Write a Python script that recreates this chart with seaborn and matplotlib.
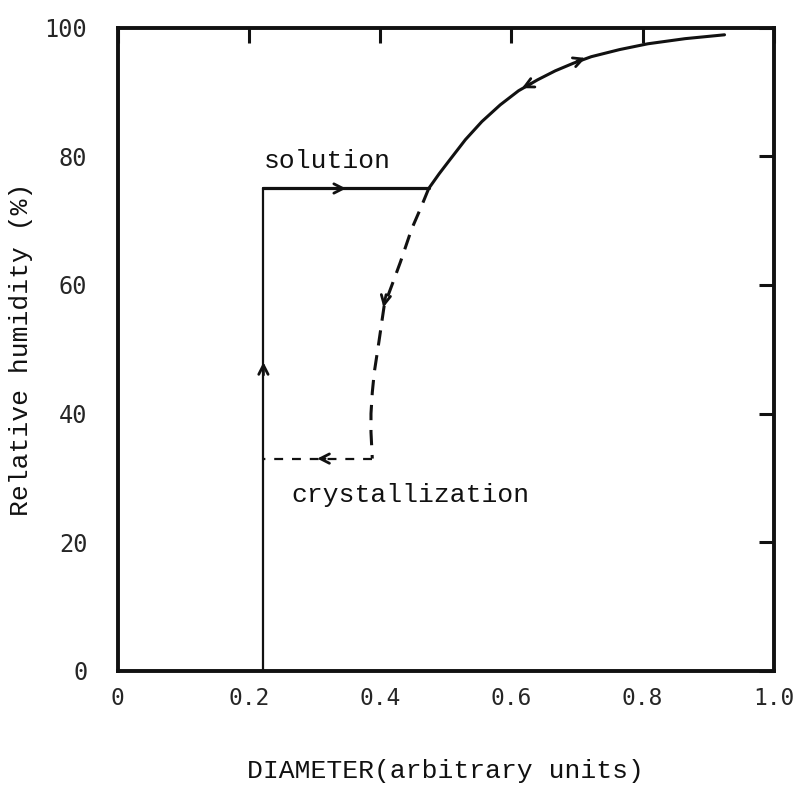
import numpy as np
import pandas as pd
import matplotlib
matplotlib.use("Agg")
import matplotlib.pyplot as plt
import seaborn as sns

# Growth branch: dry particle deliquesces, then grows along the solution curve
rise_x = [0.222, 0.222]
rise_y = [0.0, 75.0]
deliq_x = [0.222, 0.474]
deliq_y = [75.0, 75.0]
solution_x = [0.474, 0.490, 0.505, 0.530, 0.555, 0.583, 0.611, 0.640,
              0.667, 0.695, 0.722, 0.765, 0.808, 0.865, 0.925]
solution_y = [75.0, 77.3, 79.3, 82.6, 85.4, 88.0, 90.2, 91.9,
              93.3, 94.5, 95.5, 96.6, 97.5, 98.3, 98.9]

# Evaporation branch: supersaturated droplet shrinks until it crystallizes
evap_x = [0.474, 0.462, 0.448, 0.431, 0.418, 0.406, 0.398, 0.391,
          0.388, 0.386, 0.386, 0.388]
evap_y = [75.0, 72.0, 68.7, 63.6, 60.0, 56.7, 51.1, 46.4,
          43.3, 40.0, 37.1, 33.0]
cryst_x = [0.388, 0.222]
cryst_y = [33.0, 33.0]

x_ticks = [0, 0.2, 0.4, 0.6, 0.8, 1.0]
x_ticklabels = ["0", "0.2", "0.4", "0.6", "0.8", "1.0"]
y_ticks = [0, 20, 40, 60, 80, 100]
y_ticklabels = ["0", "20", "40", "60", "80", "100"]

sns.set_theme(style="white")
plt.rcParams["font.family"] = ["Liberation Mono", "DejaVu Sans Mono"]

fig = plt.figure(figsize=(7.96, 7.92), dpi=100)
ax = fig.add_axes([0.148, 0.153, 0.824, 0.812])

ink = "#111111"

def path(xs, ys, lw, dashes=None):
    df = pd.DataFrame({"x": xs, "y": ys})
    sns.lineplot(data=df, x="x", y="y", sort=False, ax=ax,
                 color=ink, lw=lw, estimator=None)
    if dashes is not None:
        ax.lines[-1].set_dashes(dashes)
        ax.lines[-1].set_dash_capstyle("butt")

path(rise_x, rise_y, 1.6)
path(deliq_x, deliq_y, 2.3)
path(solution_x, solution_y, 2.2)
path(evap_x, evap_y, 2.2, dashes=(5, 3.2))
path(cryst_x, cryst_y, 1.6, dashes=(4, 4))

def chevron(tip, tail):
    ax.annotate("", xy=tip, xytext=tail,
                arrowprops=dict(arrowstyle="->,head_length=0.55,head_width=0.28",
                                color=ink, lw=2.0, shrinkA=0, shrinkB=0))

# direction markers along the loop
chevron((rise_x[0], 48.0), (rise_x[0], 46.0))
chevron((0.348, 75.0), (0.338, 75.0))
chevron((0.616, 90.6), (0.630, 91.3))
chevron((0.713, 95.3), (0.700, 94.8))
chevron((0.405, 56.5), (0.409, 58.5))
chevron((0.304, 33.0), (0.316, 33.0))

ax.text(0.223, 79.3, "solution", fontsize=19, ha="left", va="center", color=ink)
ax.text(0.264, 27.4, "crystallization", fontsize=19, ha="left", va="center", color=ink)

ax.set_xlim(0, 1.0)
ax.set_ylim(0, 100)
ax.set_xticks(x_ticks)
ax.set_xticklabels(x_ticklabels, family="DejaVu Sans Mono", fontsize=16.5)
ax.set_yticks(y_ticks)
ax.set_yticklabels(y_ticklabels, family="DejaVu Sans Mono", fontsize=17)
ax.tick_params(axis="both", direction="in", length=11, width=2.2, color=ink,
               top=True, right=True)
ax.tick_params(axis="x", pad=12)
ax.tick_params(axis="y", pad=22)

ax.set_xlabel("DIAMETER(arbitrary units)", fontsize=19, labelpad=35, color=ink)
ax.set_ylabel("Relative humidity (%)", fontsize=19, labelpad=8, color=ink)

for side in ["left", "right", "top", "bottom"]:
    ax.spines[side].set_visible(True)
    ax.spines[side].set_linewidth(2.8)
    ax.spines[side].set_color(ink)

fig.savefig("out.png", dpi=100, facecolor="white")
